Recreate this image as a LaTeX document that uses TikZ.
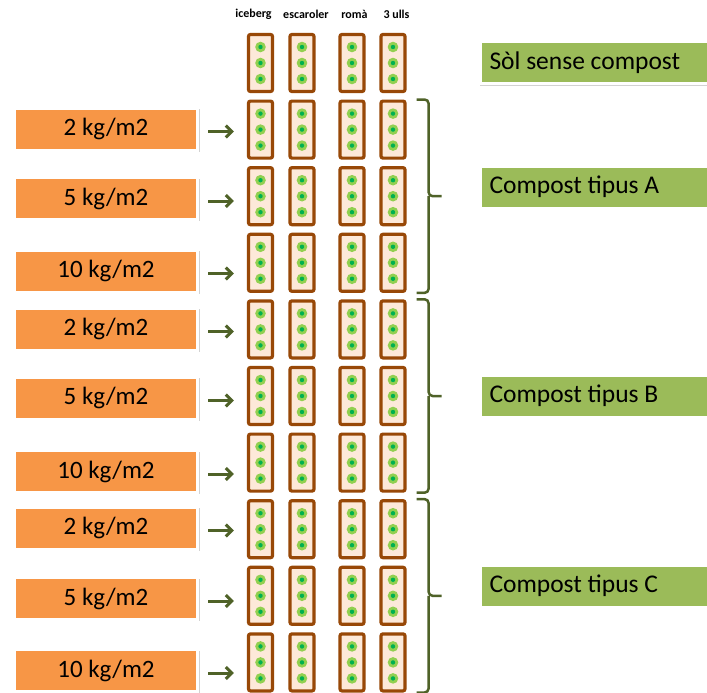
\documentclass[tikz,border=0pt]{standalone}
\usepackage{fontspec}
\setmainfont{Carlito}
\usetikzlibrary{arrows.meta,positioning,calc,shadows}

\definecolor{dose}{HTML}{F79646}
\definecolor{compost}{HTML}{9BBB59}
\definecolor{soil}{HTML}{984807}
\definecolor{soilfill}{HTML}{FDE9D9}
\definecolor{leafout}{HTML}{92D050}
\definecolor{leafin}{HTML}{00B050}
\definecolor{olive}{HTML}{4F6228}

\begin{document}
\begin{tikzpicture}[
  x=1pt, y=-1pt,
  collab/.style={font=\fontsize{12}{14}\selectfont\bfseries, inner sep=0pt},
  plot/.style={draw=soil, fill=soilfill, line width=3.2pt, rounded corners=2pt, minimum width=24pt, minimum height=57pt, inner sep=0pt},
  shade/.style={drop shadow={opacity=0.25, fill=black!70, shadow scale=1.015, shadow xshift=1pt, shadow yshift=-1.5pt}},
  dosebox/.style={draw=white, line width=3pt, fill=dose, minimum width=183pt, minimum height=42pt, inner sep=0pt,
    font=\fontsize{25}{28}\selectfont, shade},
  compbox/.style={draw=white, line width=3pt, fill=compost, anchor=west, text width=232pt, align=left, inner xsep=9pt,
    minimum height=42pt, font=\fontsize{25.5}{28}\selectfont, execute at begin node={\spaceskip=0pt\relax}, shade},
  arr/.style={-{Straight Barb[length=6pt, width=12pt]}, draw=olive, line width=3pt, shorten <=9pt, shorten >=13pt},
  brc/.style={draw=olive, line width=2.5pt, rounded corners=4pt}
]
\fill[white] (0,0) rectangle (707,693);
\useasboundingbox (0,0) rectangle (707,693);

% ---------- Column headers ----------
\node[collab] (hIce) at (253.5,14) {iceberg};
\node[collab] (hEsc) at (306,14)   {escaroler};
\node[collab] (hRom) at (354.5,14) {romà};
\node[collab] (hUll) at (396.5,14) {3 ulls};

% ---------- Plots: 10 rows x 4 varieties ----------
\foreach \c/\x in {1/260.5, 2/302, 3/352, 4/393}
  \foreach \r in {0,...,9} {
    \node[plot] (p\r-\c) at (\x, 63+66.6*\r) {};
    \foreach \d in {-16,0,16} {
      \fill[leafout] ([yshift=\d pt]p\r-\c.center) circle (5.3pt);
      \fill[leafin]  ([yshift=\d pt]p\r-\c.center) circle (2.2pt);
    }
  }

% ---------- Doses ----------
\node[dosebox] (dA2)  at (106,129)   {2 kg/m2};
\node[dosebox] (dA5)  at (106,198.5) {5 kg/m2};
\node[dosebox] (dA10) at (106,271)   {10 kg/m2};
\node[dosebox] (dB2)  at (106,329)   {2 kg/m2};
\node[dosebox] (dB5)  at (106,398)   {5 kg/m2};
\node[dosebox] (dB10) at (106,471.5) {10 kg/m2};
\node[dosebox] (dC2)  at (106,528)   {2 kg/m2};
\node[dosebox] (dC5)  at (106,598.5) {5 kg/m2};
\node[dosebox] (dC10) at (106,670.5) {10 kg/m2};

\foreach \d/\r in {dA2/1, dA5/2, dA10/3, dB2/4, dB5/5, dB10/6, dC2/7, dC5/8, dC10/9}
  \draw[arr] ([yshift=-2.5pt]\d.east) -- ([yshift=-2.5pt]\d.east -| p\r-1.west);

% ---------- Compost types ----------
\node[compbox] (gS) at (479,63)  {Sòl sense compost};
\node[compbox] (gA) at (479,187) {Compost tipus A};
\node[compbox] (gB) at (479,396) {Compost tipus B};
\node[compbox] (gC) at (479,586) {Compost tipus C};

% ---------- Braces ----------
\foreach \t/\m/\b in {1/2/3, 4/5/6, 7/8/9} {
  \draw[brc] ([xshift=10pt]p\t-4.north east) -| ([xshift=22pt]p\m-4.east) -- ([xshift=35pt]p\m-4.east);
  \draw[brc] ([xshift=10pt]p\b-4.south east) -| ([xshift=22pt]p\m-4.east);
}
\end{tikzpicture}
\end{document}
